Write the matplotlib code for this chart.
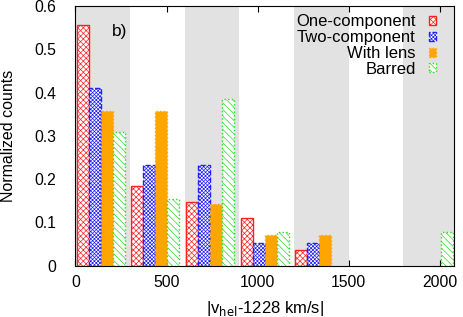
import matplotlib
matplotlib.use("Agg")
import matplotlib.pyplot as plt
import numpy as np

plt.rcParams['font.family'] = ['Liberation Sans', 'DejaVu Sans']
plt.rcParams['hatch.linewidth'] = 0.5

bin_starts = [0, 300, 600, 900, 1200, 1500, 1800]
series_names = ["One-component", "Two-component", "With lens", "Barred"]
one_comp = [0.556, 0.185, 0.148, 0.111, 0.037, 0.0, 0.0]
two_comp = [0.41, 0.233, 0.233, 0.052, 0.052, 0.0, 0.0]
with_lens = [0.357, 0.357, 0.143, 0.071, 0.071, 0.0, 0.0]
barred = [0.308, 0.154, 0.385, 0.077, 0.0, 0.0, 0.077]
x_ticks = [0, 500, 1000, 1500, 2000]
y_ticks = [0, 0.1, 0.2, 0.3, 0.4, 0.5, 0.6]

fig = plt.figure(figsize=(4.63, 3.17), dpi=100)
ax = fig.add_axes([0.163, 0.162, 0.818, 0.819])

# alternating gray bands
for i, b in enumerate(bin_starts):
    if i % 2 == 0:
        ax.axvspan(b, b + 300, color='#e2e2e2', lw=0, zorder=0)

styles = [
    dict(facecolor='white', edgecolor='#ff2020', hatch='xxxxxx', linestyle='-'),
    dict(facecolor='white', edgecolor='#2020ff', hatch='xxxxxxxxx', linestyle='--'),
    dict(facecolor='orange', edgecolor='orange', hatch=None, linestyle=':'),
    dict(facecolor='white', edgecolor='#20e020', hatch='\\\\\\\\\\', linestyle=':'),
]
data = [one_comp, two_comp, with_lens, barred]
bw = 66
off = 7
starts = np.array(bin_starts, dtype=float)
for j, (vals, st, name) in enumerate(zip(data, styles, series_names)):
    v = np.array(vals)
    mask = v > 0
    ax.bar(starts[mask] + off + j * bw, v[mask], width=bw, align='edge',
           facecolor=st['facecolor'], edgecolor=st['edgecolor'],
           hatch=st['hatch'], linewidth=1.0, linestyle=st['linestyle'],
           zorder=2, label=name)

ax.set_xlim(0, 2080)
ax.set_ylim(0, 0.6)
ax.set_xticks(x_ticks)
ax.set_yticks(y_ticks)
ax.set_yticklabels(['0', '0.1', '0.2', '0.3', '0.4', '0.5', '0.6'])
ax.tick_params(axis='x', direction='in', top=True, length=4, labelsize=11.3, pad=7)
ax.tick_params(axis='y', length=0, labelsize=11.3, pad=14)
for s in ax.spines.values():
    s.set_linewidth(0.8)
    s.set_zorder(5)

ax.set_xlabel(r'|v$_{\rm hel}$-1228 km/s|', fontsize=12, labelpad=6)
ax.set_ylabel('Normalized counts', fontsize=11.5)
ax.yaxis.set_label_coords(-0.157, 0.5)

ax.text(198, 0.54, 'b)', fontsize=12.5, ha='left', va='center')

leg = ax.legend(loc='upper right', frameon=False, fontsize=12, markerfirst=False,
                handlelength=0.45, handleheight=0.45, handletextpad=0.8,
                labelspacing=0.05, borderaxespad=0.2, borderpad=0.3,
                bbox_to_anchor=(0.975, 1.0), alignment='right')
for t in leg.get_texts():
    t.set_ha('right')

fig.savefig('out.png', dpi=100)
